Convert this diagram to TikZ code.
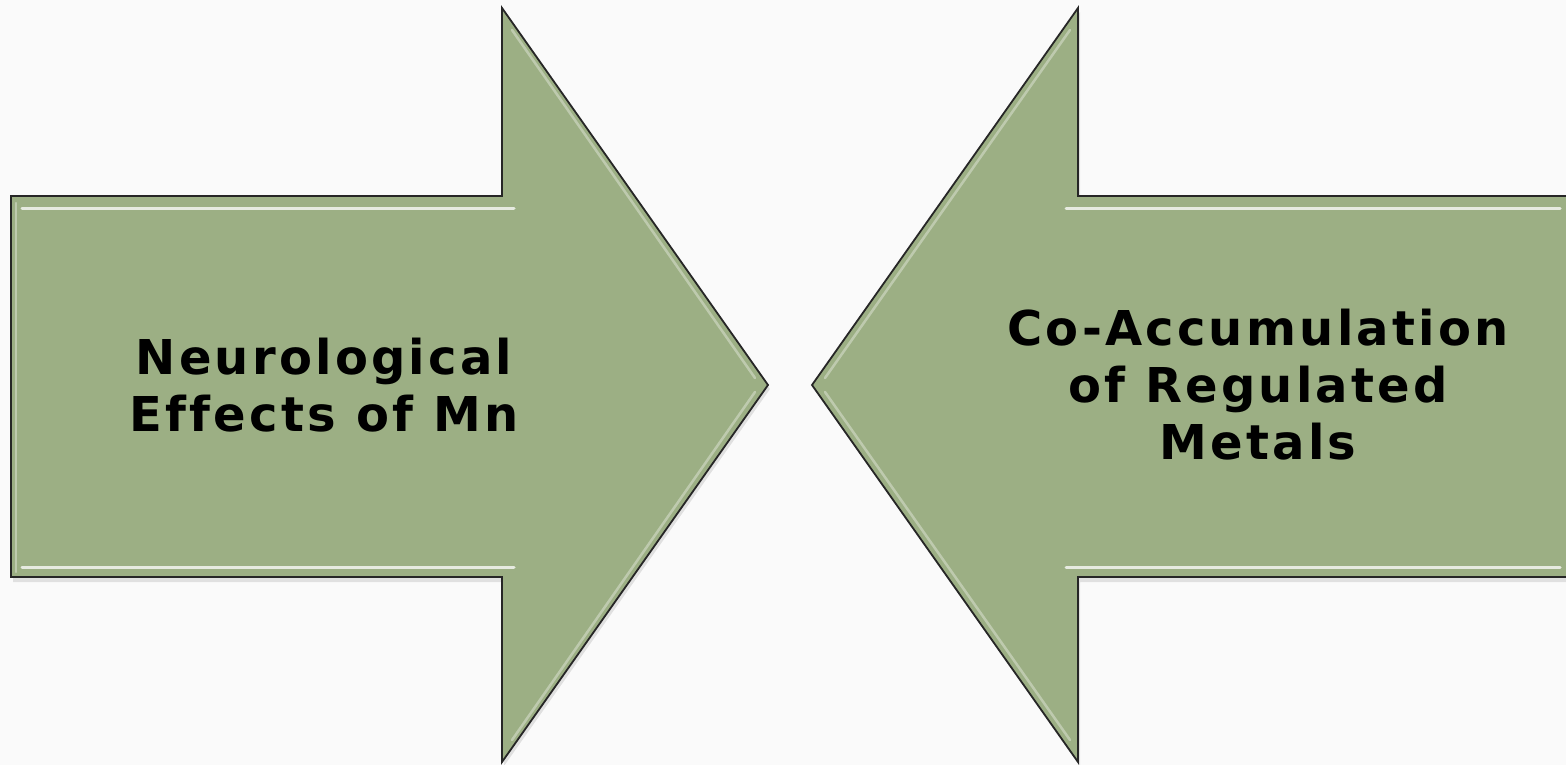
\documentclass[tikz,border=0pt]{standalone}
\usepackage{fontspec}
\setmainfont{DejaVu Sans}
\newfontfamily\labelfont[LetterSpace=6.7,Ligatures=NoCommon]{DejaVu Sans}
\begin{document}
\begin{tikzpicture}[x=1pt,y=-1pt,
  arrowshape/.style={fill=arrowgreen, draw=black!85, line width=1.8pt, line join=miter},
  shadowshape/.style={fill=black, opacity=0.10},
  hilite/.style={draw=white, opacity=0.75, line width=3pt, line cap=round},
  softhilite/.style={draw=white, opacity=0.35, line width=2.5pt, line cap=round},
  label/.style={font=\labelfont\bfseries\fontsize{48}{57}\selectfont, align=center, text=black}]
\definecolor{arrowgreen}{HTML}{9CAF84}
\definecolor{bg}{HTML}{FAFAFA}
\useasboundingbox (0,0) rectangle (1566,765);
\fill[bg] (0,0) rectangle (1566,765);
\begin{scope}
\clip (0,0) rectangle (1566,765);
% shadows
\fill[shadowshape] (13,200) -- (504,200) -- (504,12) -- (770,389) -- (504,766) -- (504,582) -- (13,582) -- cycle;
\fill[shadowshape] (1570,200) -- (1080,200) -- (1080,12) -- (814,389) -- (1080,766) -- (1080,582) -- (1570,582) -- cycle;
% left arrow
\path[arrowshape] (11,196) -- (502,196) -- (502,8) -- (768,385) coordinate (ltip) -- (502,762) -- (502,577) -- (11,577) -- cycle;
% right arrow
\path[arrowshape] (1580,196) -- (1078,196) -- (1078,8) -- (812,385) coordinate (rtip) -- (1078,762) -- (1078,577) -- (1580,577) -- cycle;
% bevel highlights left
\draw[hilite] (22,208) -- (514,208);
\draw[hilite] (22,567) -- (514,567);
\draw[softhilite] (16,203) -- (16,572);
\draw[softhilite] (512,30) -- (755,378);
\draw[softhilite] (512,740) -- (755,392);
% bevel highlights right
\draw[hilite] (1066,208) -- (1560,208);
\draw[hilite] (1066,567) -- (1560,567);
\draw[softhilite] (1070,30) -- (825,378);
\draw[softhilite] (1070,740) -- (825,392);
\end{scope}
\node[label] (lt) at (324,385) {Neurological\\Effects of Mn};
\node[label] (rt) at (1258,385) {Co-Accumulation\\of Regulated\\Metals};
\end{tikzpicture}
\end{document}
